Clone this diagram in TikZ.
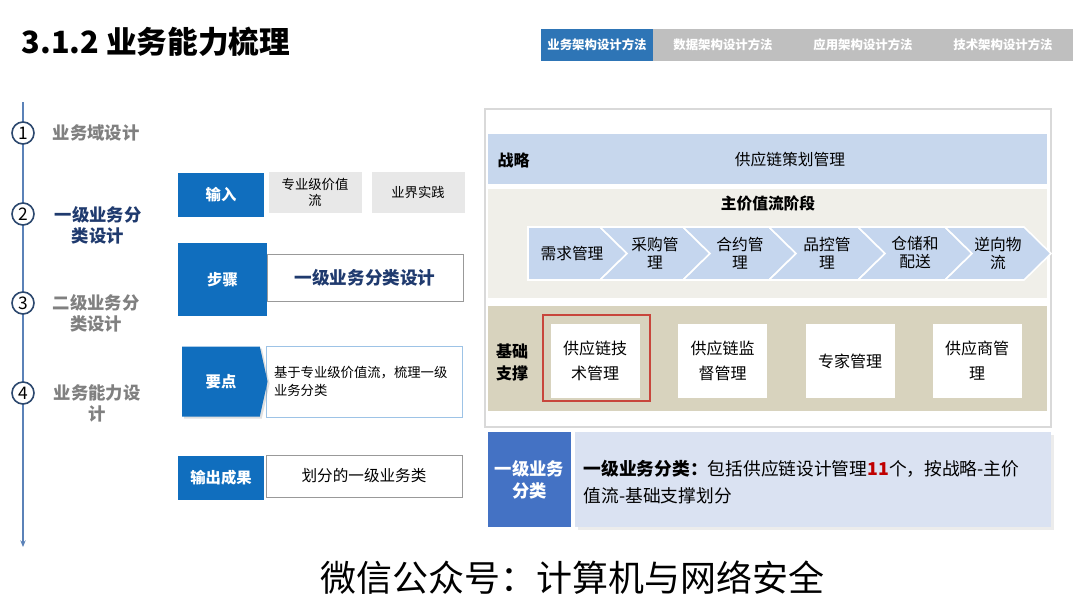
\documentclass[tikz,border=0pt]{standalone}
\usepackage{fontspec}
\setmainfont{Noto Sans CJK SC}
\usepackage{xcolor}
\usetikzlibrary{arrows.meta,shapes.symbols,shadows}

\definecolor{bizblue}{RGB}{16,110,190}
\definecolor{tabblue}{RGB}{46,117,182}
\definecolor{tabgrey}{RGB}{191,191,191}
\definecolor{lineblue}{RGB}{91,130,184}
\definecolor{ringblue}{RGB}{44,72,110}
\definecolor{labelgrey}{RGB}{128,128,128}
\definecolor{darknavy}{RGB}{31,58,110}
\definecolor{boxgrey}{RGB}{232,232,232}
\definecolor{keyborder}{RGB}{157,195,230}
\definecolor{strategyblue}{RGB}{199,215,237}
\definecolor{chevblue}{RGB}{197,214,238}
\definecolor{streamback}{RGB}{240,239,233}
\definecolor{baseback}{RGB}{216,211,190}
\definecolor{sumblue}{RGB}{68,114,196}
\definecolor{sumback}{RGB}{218,226,242}
\definecolor{hired}{RGB}{192,0,0}
\definecolor{outlinered}{RGB}{200,70,60}

\begin{document}
\begin{tikzpicture}[x=0.75pt,y=-0.75pt,
  tabbox/.style={minimum height=24pt, inner sep=0pt, text=white, font=\fontsize{9.3}{11}\selectfont\bfseries},
  stepno/.style={circle, draw=ringblue, line width=1.2pt, fill=white, minimum size=16.5pt, inner sep=0pt, font=\fontsize{13}{15}\selectfont},
  phase/.style={align=center, text=labelgrey, font=\fontsize{13}{15.75}\selectfont\bfseries},
  tagbox/.style={fill=bizblue, text=white, inner sep=0pt, minimum width=64.5pt, font=\fontsize{11.5}{14}\selectfont\bfseries},
  infobox/.style={draw=gray!80, fill=white, inner sep=0pt, minimum width=147pt, align=center},
  greybox/.style={fill=boxgrey, inner sep=0pt, minimum width=69.75pt, minimum height=30.75pt, align=center, font=\fontsize{10}{12}\selectfont},
  band/.style={inner sep=0pt, minimum width=419.25pt},
  chevtext/.style={align=center, font=\fontsize{11.8}{13.5}\selectfont},
  basebox/.style={fill=white, inner sep=0pt, minimum width=66.75pt, minimum height=55.5pt, align=center, font=\fontsize{12}{18.75}\selectfont}]
\useasboundingbox[fill=white] (0,0) rectangle (1080,608);

% Title and method tabs
\node[anchor=west, font=\fontsize{23}{27}\selectfont\bfseries] (title) at (17,42) {3.1.2 业务能力梳理};
\node[tabbox, fill=tabblue, minimum width=84pt] (tabbiz) at (597,45) {业务架构设计方法};
\foreach \n/\cx/\txt in {data/723/数据架构设计方法, app/863/应用架构设计方法, tech/1003/技术架构设计方法}
  \node[tabbox, fill=tabgrey, minimum width=105pt] (tab\n) at (\cx,45) {\txt};

% Timeline
\coordinate (tltop) at (23,102);
\coordinate (tlend) at (23,547);
\draw[lineblue, line width=1.5pt, -{Stealth[length=5pt,width=4pt]}] (tltop) -- (tlend);
\foreach \i/\cy in {1/133,2/214,3/303,4/393}
  \node[stepno] (no\i) at (23,\cy) {\i};
\node[phase] (phase1) at (96,133) {业务域设计};
\node[phase, text=darknavy] (phase2) at (98,225) {一级业务分\\类设计};
\node[phase] (phase3) at (96,313) {二级业务分\\类设计};
\node[phase] (phase4) at (97,403) {业务能力设\\计};

% Input, step, key point, output
\node[tagbox, minimum height=33pt] (input) at (221,195) {输入};
\node[greybox] (valstream) at (315,192.5) {专业级价值\\流};
\node[greybox] (practice) at (418,192.5) {业界实践};

\node[infobox, minimum height=35.25pt, text=darknavy, font=\fontsize{13.2}{16}\selectfont\bfseries] (stepname) at (365,277.5) {一级业务分类设计};
\node[tagbox, minimum width=66.75pt, minimum height=54.75pt] (step) at (222.5,279.5) {步骤};

\node[infobox, draw=keyborder, minimum height=53.25pt, text width=135pt, align=left, font=\fontsize{10}{13.5}\selectfont] (keytext) at (364,381.5) {基于专业级价值流，梳理一级\\业务分类};
\node[tagbox, signal, signal to=east, signal pointer angle=155, minimum width=64pt, minimum height=52.5pt,
  drop shadow={opacity=0.25, shadow xshift=1.5pt, shadow yshift=-1.5pt}] (keypoint) at (221,381.5) {要点};

\node[tagbox, minimum height=33pt] (output) at (221,478) {输出成果};
\node[infobox, minimum height=31.5pt, font=\fontsize{11.7}{14}\selectfont] (outtext) at (364,476) {划分的一级业务类};

% Capability map
\node[draw=gray!30, line width=0.8pt, fill=white, inner sep=0pt, minimum width=424.5pt, minimum height=238.5pt] (panel) at (768,268) {};

\node[band, fill=strategyblue, minimum height=37.5pt] (strategy) at (767.5,159) {};
\node[anchor=west, font=\fontsize{12}{14}\selectfont\bfseries] (strategytag) at (493,160) {战略};
\node[font=\fontsize{11.8}{14}\selectfont] (strategyname) at (790,160) {供应链策划管理};

\node[band, fill=streamback, minimum height=81.75pt] (stream) at (767.5,243.5) {};
\node[font=\fontsize{11.8}{14}\selectfont\bfseries] (streamtitle) at (768,203) {主价值流阶段};
% chevrons
\draw[white, line width=1.2pt, fill=chevblue] (528,227) -- (600,227) -- (627,253.5) -- (600,280) -- (528,280) -- cycle;
\foreach \prev/\tipx in {627/710, 710/796, 796/885, 885/972, 972/1051}
  \draw[white, line width=1.2pt, fill=chevblue] (\prev-27,227) -- (\tipx-27,227) -- (\tipx,253.5) -- (\tipx-27,280) -- (\prev-27,280) -- (\prev,253.5) -- cycle;
\foreach \n/\cx/\txt in {demand/572/{需求管理}, purchase/655/{采购管\\理}, contract/740/{合约管\\理}, quality/827/{品控管\\理}, storage/915/{仓储和\\配送}, reverse/998/{逆向物\\流}}
  \node[chevtext] (\n) at (\cx,253) {\txt};

\node[band, fill=baseback, minimum height=78.75pt] (base) at (767.5,358.5) {};
\node[align=center, font=\fontsize{12}{16.5}\selectfont\bfseries] (basetag) at (512,362) {基础\\支撑};
\foreach \n/\cx/\txt in {techmgmt/595/{供应链技\\术管理}, supervise/722.5/{供应链监\\督管理}, expert/850/{专家管理}, supplier/977/{供应商管\\理}}
  \node[basebox] (\n) at (\cx,361) {\txt};
\node[draw=outlinered, line width=1pt, inner sep=0pt, minimum width=80.25pt, minimum height=64.5pt] (focus) at (596.5,358) {};

% Summary
\node[fill=sumback, inner sep=0pt, minimum width=357pt, minimum height=71.25pt,
  drop shadow={opacity=0.15, shadow xshift=2pt, shadow yshift=-2pt}] (sumbox) at (813,479.5) {};
\node[fill=sumblue, text=white, inner sep=0pt, minimum width=62.25pt, minimum height=71.25pt, align=center, font=\fontsize{13}{16.5}\selectfont\bfseries] (sumtag) at (529.5,479.5) {一级业务\\分类};
\node[anchor=west, align=left, font=\fontsize{13.3}{20.25}\selectfont] (sumtext) at (579,482.5) {\textbf{一级业务分类：}包括供应链设计管理\textcolor{hired}{\textbf{11}}个，按战略-主价\\值流-基础支撑划分};

\node[font=\fontsize{27}{32}\selectfont] (watermark) at (572,578) {微信公众号：计算机与网络安全};
\end{tikzpicture}
\end{document}
